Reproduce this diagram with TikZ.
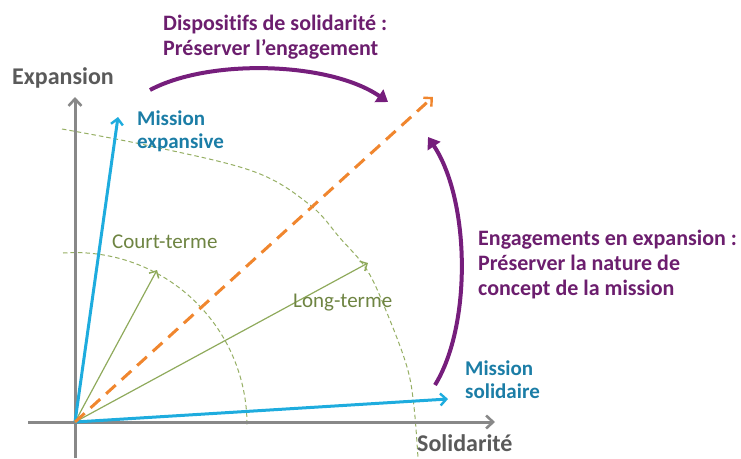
\documentclass[tikz,border=0pt]{standalone}
\usepackage{fontspec}
\setmainfont{Carlito}[Ligatures=NoCommon]
\usetikzlibrary{arrows.meta}
\definecolor{axisgray}{RGB}{136,136,136}
\definecolor{labelgray}{RGB}{90,90,90}
\definecolor{vecblue}{RGB}{30,172,222}
\definecolor{txtblue}{RGB}{27,125,166}
\definecolor{purp}{RGB}{118,30,124}
\definecolor{txtpurp}{RGB}{108,30,110}
\definecolor{vecgreen}{RGB}{143,170,92}
\definecolor{txtgreen}{RGB}{110,132,66}
\definecolor{arcgreen}{RGB}{150,175,100}
\definecolor{orng}{RGB}{240,134,46}
\begin{document}
\begin{tikzpicture}[x=1pt,y=-1pt,
  axisline/.style={draw=axisgray,line width=3pt,-{Straight Barb[length=7pt,width=13pt,line width=2.6pt]}},
  bluevec/.style={draw=vecblue,line width=3pt,-{Straight Barb[length=6pt,width=12pt,line width=2.4pt]}},
  greenvec/.style={draw=vecgreen,line width=1.2pt,-{Straight Barb[length=5.5pt,width=11pt,line width=1.5pt]}},
  greenarc/.style={draw=arcgreen,line width=1pt,dash pattern=on 4.5pt off 3pt},
  orangevec/.style={draw=orng,line width=3pt,dash pattern=on 13pt off 8pt,-{Straight Barb[length=6pt,width=12pt,line width=2.4pt]}},
  purparrow/.style={draw=purp,line width=4pt,-{Triangle[length=11pt,width=15pt]}},
  axislabel/.style={font=\fontsize{24}{28}\selectfont\bfseries,text=labelgray,inner sep=0pt,anchor=north west},
  missionlabel/.style={font=\fontsize{21}{23}\selectfont\bfseries,text=txtblue,inner sep=0pt,anchor=north west,align=left},
  purplabel/.style={font=\fontsize{22}{25}\selectfont\bfseries,text=txtpurp,inner sep=0pt,anchor=north west,align=left},
  greenlabel/.style={font=\fontsize{21}{24}\selectfont,text=txtgreen,inner sep=0pt,anchor=north west}]
\useasboundingbox (0,0) rectangle (741,458);
% coordinates
\coordinate (O) at (75,422);
\coordinate (ybot) at (75,458);
\coordinate (ytop) at (75,97);
\coordinate (xleft) at (28,422);
\coordinate (xright) at (495,422);
\coordinate (expTip) at (118,117);
\coordinate (solTip) at (448,399);
\coordinate (ctTip) at (157,270);
\coordinate (ltTip) at (368,263);
\coordinate (orTip) at (433,97);
\coordinate (p1s) at (150,90);
\coordinate (p1e) at (388,102);
\coordinate (p2s) at (435,385);
\coordinate (p2e) at (428,137);
% dashed arcs
\draw[greenarc] (63,253) arc[start angle=-94,end angle=0,radius=172];
\draw[greenarc] plot[smooth,tension=0.6] coordinates {(62,129) (155,147) (255,172) (310,205) (340,238) (367,270) (387,313) (407,367) (414,407) (418,458)};
% axes
\draw[axisline] (ybot) -- (ytop);
\draw[axisline] (xleft) -- (xright);
% green vectors
\draw[greenvec] (O) -- (ctTip);
\draw[greenvec] (O) -- (ltTip);
% blue vectors
\draw[bluevec] (O) -- (expTip);
\draw[bluevec] (O) -- (solTip);
% orange
\draw[orangevec] (O) -- (orTip);
% purple arcs
\draw[purparrow] (p1s) .. controls (210,58) and (330,62) .. (p1e);
\draw[purparrow] (p2s) .. controls (472,325) and (470,200) .. (p2e);
% labels
\node[axislabel] (lexp) at (12,67) {Expansion};
\node[axislabel] (lsol) at (417,434) {Solidarité};
\node[missionlabel] (lme) at (137,111) {Mission\\expansive};
\node[missionlabel] (lms) at (465,361) {Mission\\solidaire};
\node[greenlabel] (lct) at (112,235) {Court-terme};
\node[greenlabel] (llt) at (293,294) {Long-terme};
\node[purplabel] (ltop) at (163,15) {Dispositifs de solidarité :\\Préserver l’engagement};
\node[purplabel] (lright) at (478,230) {Engagements en expansion :\\Préserver la nature de\\concept de la mission};
\end{tikzpicture}
\end{document}
